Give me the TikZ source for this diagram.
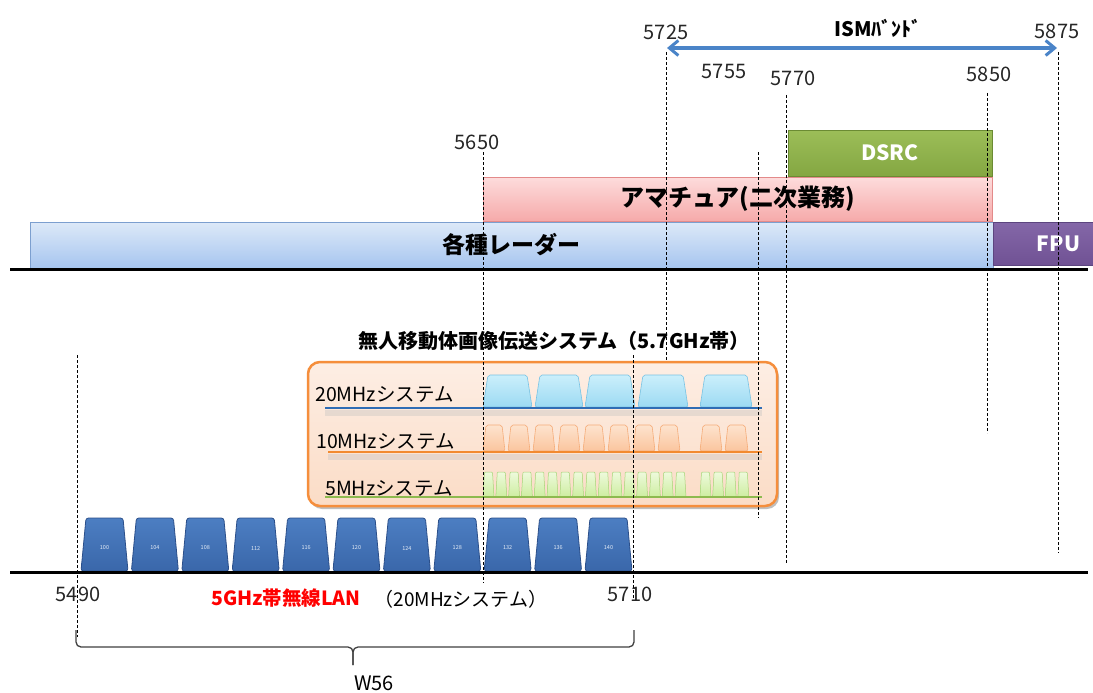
\documentclass[tikz,border=0pt]{standalone}
\usepackage{fontspec}
\setmainfont{Noto Sans CJK JP}
\usetikzlibrary{arrows.meta,shadows}
\definecolor{radarTop}{HTML}{DDE9F8}
\definecolor{radarBot}{HTML}{A6C5EF}
\definecolor{radarBd}{HTML}{7C9FCF}
\definecolor{amaTop}{HTML}{FDDCDC}
\definecolor{amaBot}{HTML}{F6AAAA}
\definecolor{amaBd}{HTML}{E38A8A}
\definecolor{dsrcTop}{HTML}{9CBE58}
\definecolor{dsrcBot}{HTML}{84A742}
\definecolor{dsrcBd}{HTML}{6B8B33}
\definecolor{fpuTop}{HTML}{8467A8}
\definecolor{fpuBot}{HTML}{705294}
\definecolor{fpuBd}{HTML}{5C457F}
\definecolor{ismBlue}{HTML}{4A84C8}
\definecolor{oboxBd}{HTML}{F58E3C}
\definecolor{oboxTop}{HTML}{FDEEE4}
\definecolor{oboxBot}{HTML}{FBDCC6}
\definecolor{c20Top}{HTML}{CBEFFB}
\definecolor{c20Bot}{HTML}{9CDAF3}
\definecolor{c20Bd}{HTML}{78C3E4}
\definecolor{l20}{HTML}{2F6DB5}
\definecolor{c10Top}{HTML}{FDE3CE}
\definecolor{c10Bot}{HTML}{FBC59E}
\definecolor{c10Bd}{HTML}{F5AC78}
\definecolor{l10}{HTML}{F28A30}
\definecolor{c5Top}{HTML}{EEFADC}
\definecolor{c5Bot}{HTML}{CDEDA0}
\definecolor{c5Bd}{HTML}{A6D477}
\definecolor{l5}{HTML}{8DBA4E}
\definecolor{lanTop}{HTML}{4C7EC2}
\definecolor{lanBot}{HTML}{3A67AA}
\definecolor{lanBd}{HTML}{2B4F8A}
\newcommand\chanshape[6]{\path[#6] (#1,#4) -- ({#1+#5},#3) -- ({#2-#5},#3) -- (#2,#4) -- cycle;}
\begin{document}
\begin{tikzpicture}[x=1pt,y=-1pt,
  num/.style={font=\fontsize{20}{22}\selectfont, text=black!85, inner sep=0pt},
  bartxt/.style={font=\fontsize{23}{26}\selectfont\bfseries, inner sep=0pt, outer sep=0pt, line width=1pt},
  vdash/.style={draw=black, line width=1pt, dash pattern=on 3pt off 2pt},
  axisline/.style={draw=black, line width=3pt},
  rowlbl/.style={font=\fontsize{19.5}{21}\selectfont, anchor=west, inner sep=0pt},
  ch20/.style={draw=c20Bd, line width=0.6pt, top color=c20Top, bottom color=c20Bot, rounded corners=2pt},
  ch10/.style={draw=c10Bd, line width=0.6pt, top color=c10Top, bottom color=c10Bot, rounded corners=2pt},
  ch5/.style={draw=c5Bd, line width=0.5pt, top color=c5Top, bottom color=c5Bot, rounded corners=1pt},
  lanch/.style={draw=lanBd, line width=0.8pt, top color=lanTop, bottom color=lanBot, rounded corners=2.5pt},
  lanlbl/.style={font=\fontsize{5.5}{6}\selectfont, text=white!85!lanTop, inner sep=0pt},
  rowshadow/.style={draw=black!25, line width=6pt, opacity=0.35},
]
\useasboundingbox (0,0) rectangle (1093,693);
\fill[white] (0,0) rectangle (1093,693);

% ---------------- upper bands
\node[bartxt, draw=radarBd, top color=radarTop, bottom color=radarBot,
      minimum width=963pt, minimum height=46pt, text=black] (radar) at (511.5,245) {各種レーダー};
\node[bartxt, font=\fontsize{24}{26}\selectfont\bfseries, draw=amaBd, top color=amaTop, bottom color=amaBot,
      minimum width=509pt, minimum height=44pt, text=black] (ama) at (737.5,199) {アマチュア(二次業務)};
\node[bartxt, font=\fontsize{21}{24}\selectfont\bfseries, draw=dsrcBd, top color=dsrcTop, bottom color=dsrcBot,
      minimum width=204pt, minimum height=46pt, text=white] (dsrc) at (890,153) {DSRC};
\node[bartxt, font=\fontsize{21}{24}\selectfont\bfseries, draw=fpuBd, top color=fpuTop, bottom color=fpuBot,
      minimum width=131pt, minimum height=43pt, text=white] (fpu) at (1058.5,243.5) {FPU};

\coordinate (ua) at (10,269);
\coordinate (ub) at (1088,269);
\draw[axisline] (ua) -- (ub);

% ---------------- ISM band
\coordinate (ismL) at (667,48);
\coordinate (ismR) at (1057,48);
\draw[draw=ismBlue, line width=3.5pt, {Straight Barb[length=9pt,width=15pt,line width=3pt]}-{Straight Barb[length=9pt,width=15pt,line width=3pt]}] (ismL) -- (ismR);
\node[font=\fontsize{20}{22}\selectfont\bfseries, inner sep=0pt] (ism) at (878,28) {ISMﾊﾞﾝﾄﾞ};

% ---------------- frequency labels
\node[num] (t5725) at (666,32) {5725};
\node[num] (t5875) at (1057,31) {5875};
\node[num] (t5755) at (724,72) {5755};
\node[num] (t5770) at (793,78) {5770};
\node[num] (t5850) at (989,74) {5850};
\node[num] (t5650) at (477,142) {5650};
\node[num] (t5490) at (78,594) {5490};
\node[num] (t5710) at (630,594) {5710};

% ---------------- orange box
\node[draw=oboxBd, line width=2.5pt, rounded corners=12pt, top color=oboxTop, bottom color=oboxBot,
      minimum width=469pt, minimum height=144pt,
      drop shadow={shadow xshift=2pt, shadow yshift=-3pt, opacity=0.25, fill=black}] (obox) at (542.5,434) {};
\node[font=\fontsize{20}{22}\selectfont\bfseries, inner sep=0pt] (otitle) at (554,341) {無人移動体画像伝送システム（5.7GHz帯）};

% row shadows
\coordinate (s20a) at (325,413); \coordinate (s20b) at (762,413);
\coordinate (s10a) at (328,457); \coordinate (s10b) at (762,457);
\draw[rowshadow] (s20a) -- (s20b);
\draw[rowshadow] (s10a) -- (s10b);

% 20 MHz channels
\foreach \xa/\xb in {483/532, 535/583, 585/635, 638/688, 700/752}
  {\chanshape{\xa}{\xb}{375}{407}{5}{ch20}}
% 10 MHz channels
\foreach \k in {0,...,7}
  {\pgfmathsetmacro\xa{483+25*\k}\pgfmathsetmacro\xb{\xa+22}
   \chanshape{\xa}{\xb}{425}{451}{3}{ch10}}
\foreach \xa/\xb in {700/722, 725/748}
  {\chanshape{\xa}{\xb}{425}{451}{3}{ch10}}
% 5 MHz channels
\foreach \k in {0,...,15}
  {\pgfmathsetmacro\xa{483+12.8*\k}\pgfmathsetmacro\xb{\xa+11}
   \chanshape{\xa}{\xb}{472}{497}{1.5}{ch5}}
\foreach \k in {0,...,3}
  {\pgfmathsetmacro\xa{700+12.6*\k}\pgfmathsetmacro\xb{\xa+11}
   \chanshape{\xa}{\xb}{472}{497}{1.5}{ch5}}

% row lines
\coordinate (r20a) at (325,408); \coordinate (r20b) at (762,408);
\coordinate (r10a) at (328,452); \coordinate (r10b) at (762,452);
\coordinate (r5a) at (325,497);  \coordinate (r5b) at (762,497);
\draw[draw=l20, line width=2.2pt] (r20a) -- (r20b);
\draw[draw=l10, line width=2.2pt] (r10a) -- (r10b);
\draw[draw=l5, line width=2.2pt] (r5a) -- (r5b);

\node[rowlbl] (lbl20) at (315,394) {20MHzシステム};
\node[rowlbl] (lbl10) at (316,441) {10MHzシステム};
\node[rowlbl] (lbl5) at (325,488) {5MHzシステム};

% ---------------- W56 LAN channels
\foreach \k/\lbl in {0/100,1/104,2/108,3/112,4/116,5/120,6/124,7/128,8/132,9/136,10/140}
  {\pgfmathsetmacro\xa{81+50.4*\k}\pgfmathsetmacro\xb{\xa+47}\pgfmathsetmacro\xc{\xa+23.5}
   \chanshape{\xa}{\xb}{518}{571}{5}{lanch}
   \node[lanlbl] (lan\k) at (\xc,548) {\lbl};}

\coordinate (la) at (10,572);
\coordinate (lb) at (1088,572);
\draw[axisline] (la) -- (lb);

\node[font=\fontsize{19.5}{22}\selectfont\bfseries, text=red, inner sep=0pt] (lanname) at (286,598) {5GHz帯無線LAN};
\node[font=\fontsize{19}{22}\selectfont, inner sep=0pt] (lansys) at (461,599) {（20MHzシステム）};

% ---------------- vertical dashed markers
\foreach \n/\x/\ya/\yb in {m5490/77/355/637, m5650/483/152/583, m5710/633/355/598,
   m5725/666/52/360, m5755/758/152/518, m5770/786/95/563, m5850/987/93/433, m5875/1058/52/553}
  {\coordinate (\n a) at (\x,\ya); \coordinate (\n b) at (\x,\yb);
   \draw[vdash] (\n a) -- (\n b);}

% ---------------- brace
\coordinate (bl) at (76,630);
\coordinate (br) at (634,630);
\coordinate (bm) at (353,647);
\coordinate (bt) at (353,665);
\draw[draw=black!75, line width=1.3pt, rounded corners=5pt] (bl) -- (76,647) -- (bm) -- (bt);
\draw[draw=black!75, line width=1.3pt, rounded corners=5pt] (br) -- (634,647) -- (bm) -- (bt);
\node[font=\fontsize{20}{22}\selectfont, inner sep=0pt] (w56) at (374,683) {W56};
\end{tikzpicture}
\end{document}
